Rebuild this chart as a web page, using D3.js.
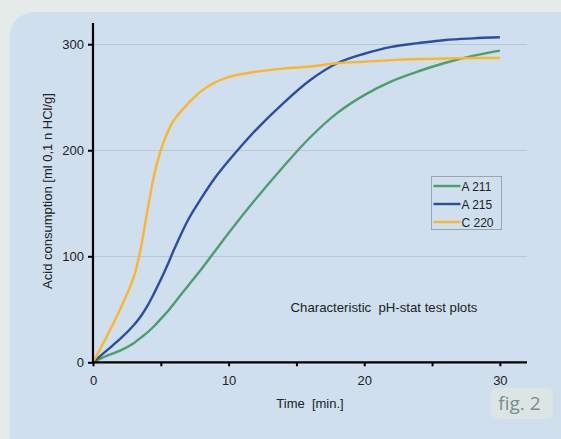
<!DOCTYPE html>
<meta charset="utf-8">
<style>
body { margin: 0; background: #e4ebe8; }
svg { display: block; font-family: "Liberation Sans", Arial, sans-serif; }
.grid line { stroke: #b9c7d3; stroke-width: 1; }
.axis path, .axis line { stroke: #000; }
.axis text { font-size: 13px; fill: #222; }
</style>
<svg width="561" height="439"></svg>
<script src="https://d3js.org/d3.v7.min.js"></script>
<script>

// time in minutes
var times = [0, 1, 2, 3, 3.5, 4, 4.5, 5, 5.5, 6, 7, 8, 9, 10, 12, 14, 16, 18, 20, 22, 24, 26, 28, 30];

var a211 = [0, 6, 11, 18, 23, 28, 34, 41, 48, 56, 72, 88, 105, 122, 154, 184, 212, 235, 252, 265, 274.5, 282.5, 289, 294];
var a215 = [0, 11, 22, 35, 43, 53, 65, 78, 92, 107, 134, 155, 174, 190, 219, 244, 266, 282, 291, 297.5, 301, 304, 305.5, 306.5];
var c220 = [0, 24, 50, 80, 106, 142, 176, 200, 217, 229, 244, 256, 264, 269, 274, 277, 279, 282, 283.5, 285, 286, 286.5, 287, 287];

var seriesNames = ["A 211", "A 215", "C 220"];
var seriesColors = ["#4c9e6b", "#2a4ea2", "#fbb52e"];
var yTicks = [0, 100, 200, 300];
var xTicks = [0, 10, 20, 30];
var xMinor = [5, 15, 25];

var svg = d3.select("svg"),
    width = +svg.attr("width"),
    height = +svg.attr("height");

// panel
svg.append("rect")
    .attr("x", 9.5).attr("y", 12)
    .attr("width", 580).attr("height", 460)
    .attr("rx", 25)
    .attr("fill", "#cfdfed");

var x = d3.scaleLinear().domain([0, 32]).range([93, 527]);
var y = d3.scaleLinear().domain([0, 320]).range([362.3, 23]);

// grid
svg.append("g").attr("class", "grid")
  .selectAll("line")
  .data(yTicks.slice(1))
  .enter().append("line")
    .attr("x1", x(0)).attr("x2", x(32))
    .attr("y1", function(d) { return Math.round(y(d)) + 0.5; })
    .attr("y2", function(d) { return Math.round(y(d)) + 0.5; });

var series = [a211, a215, c220];

var line = d3.line()
    .x(function(d, i) { return x(times[i]); })
    .y(function(d) { return y(d); })
    .curve(d3.curveCatmullRom.alpha(0.5));

svg.append("g").selectAll("path")
  .data(series)
  .enter().append("path")
    .attr("fill", "none")
    .attr("stroke", function(d, i) { return seriesColors[i]; })
    .attr("stroke-width", 2.4)
    .attr("d", line);

// axes
var xAxis = svg.append("g").attr("class", "axis")
    .attr("transform", "translate(0," + y(0) + ")")
    .call(d3.axisBottom(x).tickValues(xTicks.concat(xMinor)).tickSize(4).tickPadding(9)
      .tickFormat(function(d) { return xTicks.indexOf(d) > -1 ? d : ""; }));
xAxis.select(".domain").attr("stroke-width", 2.2).attr("d", "M" + x(0) + ",0H" + x(32));
xAxis.selectAll(".tick line").attr("stroke-width", 2);

var yAxis = svg.append("g").attr("class", "axis")
    .attr("transform", "translate(" + x(0) + ",0)")
    .call(d3.axisLeft(y).tickValues(yTicks).tickSize(5).tickPadding(4));
yAxis.select(".domain").attr("stroke-width", 2.2).attr("d", "M0," + y(0) + "V" + y(320));
yAxis.selectAll(".tick line").attr("stroke-width", 2);

// axis titles
svg.append("text")
    .attr("x", 310).attr("y", 407.5)
    .attr("text-anchor", "middle")
    .style("font-size", "13px").attr("fill", "#222")
    .attr("xml:space", "preserve")
    .text("Time  [min.]");

svg.append("text")
    .attr("transform", "translate(51.5,191) rotate(-90)")
    .attr("text-anchor", "middle")
    .style("font-size", "13px").attr("fill", "#222")
    .text("Acid consumption [ml 0,1 n HCl/g]");

svg.append("text")
    .attr("x", 384).attr("y", 311.5)
    .attr("text-anchor", "middle")
    .style("font-size", "13.2px").attr("fill", "#222")
    .attr("xml:space", "preserve")
    .text("Characteristic  pH-stat test plots");

// legend
var legend = svg.append("g").attr("transform", "translate(431.5,176.5)");
legend.append("rect")
    .attr("width", 70).attr("height", 53)
    .attr("fill", "none").attr("stroke", "#9aa5ad").attr("stroke-width", 1);
var item = legend.selectAll(".item")
  .data(seriesNames)
  .enter().append("g")
    .attr("transform", function(d, i) { return "translate(0," + (9.5 + i * 18) + ")"; });
item.append("line")
    .attr("x1", 2).attr("x2", 29)
    .attr("stroke", function(d, i) { return seriesColors[i]; })
    .attr("stroke-width", 2.4);
item.append("text")
    .attr("x", 30).attr("y", 4.5)
    .style("font-size", "12px").attr("fill", "#222")
    .text(function(d) { return d; });

// fig label
svg.append("rect")
    .attr("x", 491).attr("y", 388)
    .attr("width", 62).attr("height", 31).attr("rx", 6)
    .attr("fill", "#dde5e4");
svg.append("text")
    .attr("x", 519.5).attr("y", 410)
    .attr("text-anchor", "middle")
    .style("font-family", "'Open Sans', sans-serif")
    .style("font-size", "19px").attr("fill", "#7c8b8c")
    .text("fig. 2");

</script>
